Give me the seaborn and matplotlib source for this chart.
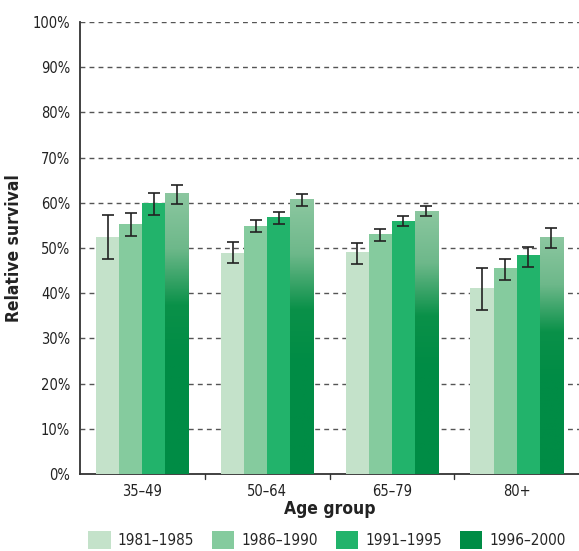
import numpy as np
import pandas as pd
import matplotlib
matplotlib.use("Agg")
import matplotlib.pyplot as plt
from matplotlib.colors import LinearSegmentedColormap
import seaborn as sns

# data
ages = ["35\u201349", "50\u201364", "65\u201379", "80+"]
periods = ["1981\u20131985", "1986\u20131990", "1991\u20131995", "1996\u20132000"]
survival = [
    [52.5, 55.3, 60.0, 62.2],
    [49.0, 54.9, 56.9, 60.8],
    [49.1, 53.1, 56.0, 58.2],
    [41.2, 45.6, 48.5, 52.4],
]
ci_low = [
    [47.6, 52.7, 57.4, 59.7],
    [46.7, 53.6, 55.4, 59.4],
    [46.5, 51.6, 54.9, 57.0],
    [36.3, 42.9, 45.8, 50.1],
]
ci_high = [
    [57.3, 57.7, 62.1, 64.0],
    [51.4, 56.2, 58.0, 62.0],
    [51.2, 54.2, 57.1, 59.2],
    [45.6, 47.6, 50.3, 54.5],
]
colors = ["#c4e2ca", "#85cb9e", "#22b36b", "#008c45"]

rows = []
for i, a in enumerate(ages):
    for j, p in enumerate(periods):
        rows.append({"age": a, "period": p, "value": survival[i][j],
                     "lo": ci_low[i][j], "hi": ci_high[i][j]})
df = pd.DataFrame(rows)

sns.set_style("white")
plt.rcParams["font.family"] = ["DejaVu Sans"]
plt.rcParams["font.stretch"] = "condensed"

fig = plt.figure(figsize=(5.79, 5.51), dpi=100)
ax = fig.add_axes([80 / 579, 1 - 474 / 551, 499 / 579, 452 / 551])

sns.barplot(data=df, x="age", y="value", hue="period", palette=colors,
            errorbar=None, width=0.74, saturation=1, ax=ax, zorder=3,
            linewidth=0)

# gradient on the latest period bars
grad = LinearSegmentedColormap.from_list("g", ["#008c45", "#0a9149", "#6db88a", "#8cc7a0"])
bar_conts = list(ax.containers)
for j, cont in enumerate(bar_conts):
    sub = df[df["period"] == periods[j]]
    for bar, (_, r) in zip(cont, sub.iterrows()):
        cx = bar.get_x() + bar.get_width() / 2
        ax.errorbar(cx, r["value"], yerr=[[r["value"] - r["lo"]], [r["hi"] - r["value"]]],
                    fmt="none", ecolor="#222222", elinewidth=1.2, capsize=4.5,
                    capthick=1.2, zorder=5)
        if j == 3:
            h = bar.get_height()
            x0 = bar.get_x()
            w = bar.get_width()
            yy = np.linspace(0, 1, 256).reshape(-1, 1)
            # darker bottom half, lightening toward the top
            vals = np.clip((yy - 0.4) / 0.6, 0, 1)
            im = ax.imshow(vals, cmap=grad, origin="lower", aspect="auto",
                           extent=[x0, x0 + w, 0, h], zorder=4, vmin=0, vmax=1)
            im.set_clip_path(bar)

ax.set_xlim(-0.5, 3.5)
ax.set_ylim(0, 100)
ax.set_yticks(np.arange(0, 101, 10))
ax.set_yticklabels([f"{v}%" for v in range(0, 101, 10)], fontsize=10.5, color="#222222")
ax.set_xticks(range(4))
ax.set_xticklabels(ages, fontsize=10.5, color="#222222")
ax.tick_params(axis="x", length=0, pad=7)
ax.tick_params(axis="y", length=4, width=1, direction="out", color="#333333", pad=3)
for b in [0.5, 1.5, 2.5]:
    ax.plot([b, b], [0, -1.2], color="#333333", lw=1, clip_on=False, zorder=6)

for v in range(10, 101, 10):
    ax.axhline(v, color="#555555", lw=1, ls=(0, (3.5, 3)), zorder=1)

for s in ["top", "right"]:
    ax.spines[s].set_visible(False)
for s in ["left", "bottom"]:
    ax.spines[s].set_color("#333333")
    ax.spines[s].set_linewidth(1.3)

ax.set_xlabel("Age group", fontsize=12.5, fontweight="bold", labelpad=1, color="#222222")
ax.set_ylabel("Relative survival", fontsize=12.5, fontweight="bold", labelpad=7, color="#222222")

handles, labels = ax.get_legend_handles_labels()
fig.legend(handles[:4], labels[:4], loc="center", bbox_to_anchor=(327 / 579, 1 - 540 / 551),
           ncol=4, frameon=False, fontsize=11, handlelength=1.45,
           handleheight=1.4, handletextpad=0.45, columnspacing=1.2,
           borderaxespad=0, borderpad=0)
ax.get_legend().remove()

fig.savefig("out.png", dpi=100)
